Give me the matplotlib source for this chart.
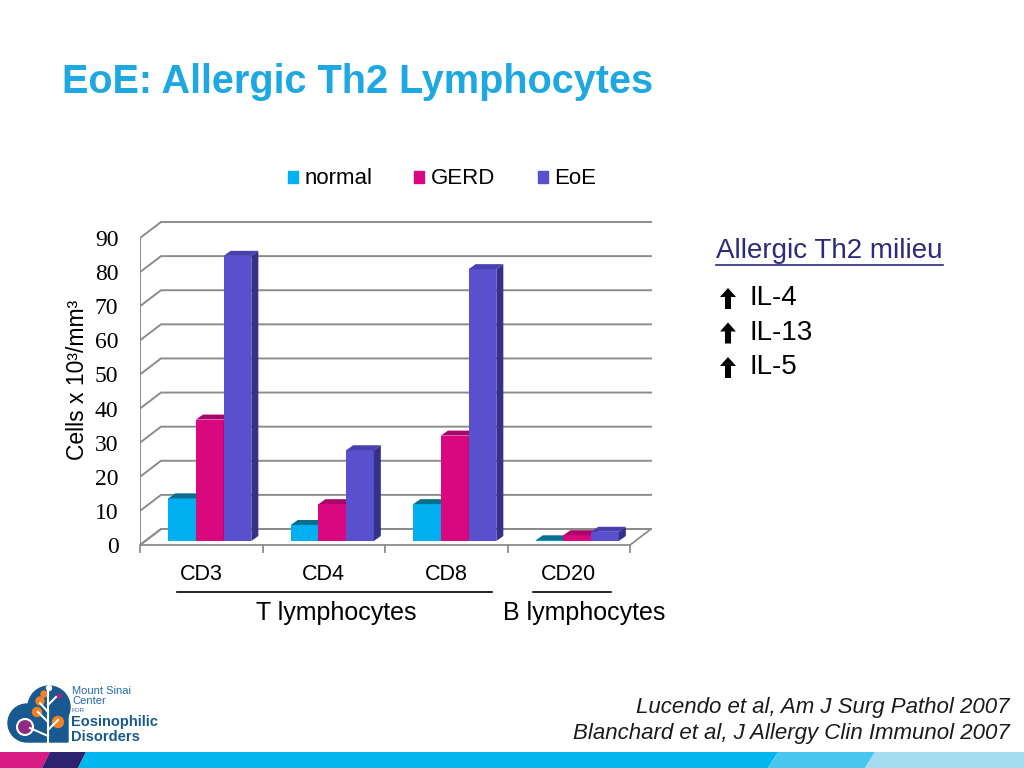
import numpy as np
import matplotlib
matplotlib.use('Agg')
import matplotlib.pyplot as plt
from matplotlib.patches import Polygon, Rectangle, Circle

plt.rcParams['font.family'] = ['Liberation Sans', 'DejaVu Sans']

# data
categories = ['CD3', 'CD4', 'CD8', 'CD20']
series = ['normal', 'GERD', 'EoE']
normal = [12.5, 4.7, 10.8, 0.2]
gerd = [35.6, 10.8, 30.9, 1.7]
eoe = [83.6, 26.6, 79.7, 2.7]
y_ticks = list(range(0, 100, 10))
groups = ['T lymphocytes', 'B lymphocytes']
group_spans = [(0, 2), (3, 3)]  # first / last category index of each group
title = 'EoE: Allergic Th2 Lymphocytes'
right_head = 'Allergic Th2 milieu'
cytokines = ['IL-4', 'IL-13', 'IL-5']
refs = ['Lucendo et al, Am J Surg Pathol 2007',
        'Blanchard et al, J Allergy Clin Immunol 2007']

face = {'normal': '#00b0f0', 'GERD': '#d9087f', 'EoE': '#5850cc'}
side = {'normal': '#0082b4', 'GERD': '#9a055a', 'EoE': '#35308a'}
top = {'normal': '#0a6f8f', 'GERD': '#a8066a', 'EoE': '#4840ae'}

fig = plt.figure(figsize=(10.24, 7.68), dpi=100)

# background layer in pixel coords
bg = fig.add_axes([0, 0, 1, 1])
bg.set_xlim(0, 1024)
bg.set_ylim(768, 0)
bg.axis('off')

# chart axes, front plane: x 0..4 -> px 140..630, y 0..90 -> px 545..238
L, R, T, B = 140, 660, 215, 560
px_x = 122.5
px_y = 3.411
ax = fig.add_axes([L / 1024, 1 - B / 768, (R - L) / 1024, (B - T) / 768])
ax.patch.set_alpha(0)
ax.set_xlim(0, (R - L) / px_x)
ax.set_ylim(-(B - 545) / px_y, (545 - T) / px_y)
for s in ax.spines.values():
    s.set_visible(False)

n = len(categories)
x = np.arange(n)
wdx, wdy = 21 / px_x, 16 / px_y    # wall depth
bdx, bdy = 7 / px_x, 5 / px_y      # bar depth
pdx, pdy = 5 / px_x, 4 / px_y      # bar plane offset from front
bw = 0.226
grid_c = '#8c8c8c'

# floor
ax.add_patch(Polygon([(0, 0), (n, 0), (n + wdx, wdy), (wdx, wdy)], closed=True,
                     facecolor='white', edgecolor=grid_c, lw=1.3, zorder=1))
for i in range(n + 1):
    ax.plot([i, i], [0, -7 / px_y], color=grid_c, lw=1.3, zorder=1, clip_on=False)
# back wall gridlines
for v in y_ticks:
    ax.plot([0, wdx, n + wdx], [v, v + wdy, v + wdy], color=grid_c, lw=1.4, zorder=1)
ax.plot([0, 0], [0, y_ticks[-1]], color=grid_c, lw=1.4, zorder=1)

# bars with fake depth
for j, (name, vals) in enumerate(zip(series, [normal, gerd, eoe])):
    bars = ax.bar(x + 0.19 + pdx + j * bw, vals, width=bw, bottom=pdy, align='edge',
                  color=face[name], zorder=3 + j, label=name)
    for r in bars:
        x0, y0, w, h = r.get_x(), r.get_y(), r.get_width(), r.get_height()
        ax.add_patch(Polygon([(x0 + w, y0), (x0 + w + bdx, y0 + bdy),
                              (x0 + w + bdx, y0 + h + bdy), (x0 + w, y0 + h)],
                             closed=True, facecolor=side[name], edgecolor='none', zorder=3 + j))
        ax.add_patch(Polygon([(x0, y0 + h), (x0 + w, y0 + h),
                              (x0 + w + bdx, y0 + h + bdy), (x0 + bdx, y0 + h + bdy)],
                             closed=True, facecolor=top[name], edgecolor='none', zorder=3 + j))

ax.set_yticks(y_ticks)
ax.set_yticklabels([str(v) for v in y_ticks], fontfamily='Liberation Serif', fontsize=17)
ax.tick_params(axis='y', length=0, pad=15.5)
ax.set_xticks(x + 0.5)
ax.set_xticklabels(categories, fontsize=15.5)
ax.tick_params(axis='x', length=0, pad=3)

# group brackets under the categories
line_y = -47 / px_y
text_y = -68 / px_y
pads = [(0.2, 0.37), (0.29, 0.345)]
text_shift = [0.02, 0.1]
for g, (a, b), (pl, pr), sh in zip(groups, group_spans, pads, text_shift):
    xa, xb = x[a] + 0.5 - pl, x[b] + 0.5 + pr
    ax.plot([xa, xb], [line_y, line_y], color='black', lw=1.2, clip_on=False)
    ax.text((xa + xb) / 2 + sh, text_y, g, ha='center', va='center', fontsize=18, clip_on=False)

fig.text(77 / 1024, 1 - 380 / 768, 'Cells x 10³/mm³', rotation=90,
         ha='center', va='center', fontsize=16.5)

handles = [Rectangle((0, 0), 1, 1, color=face[s]) for s in series]
fig.legend(handles, series, loc='center', bbox_to_anchor=(442 / 1024, 1 - 179 / 768),
           ncol=3, frameon=False, fontsize=16, handlelength=0.45, handleheight=0.45,
           handletextpad=0.3, columnspacing=1.9)

# title
bg.text(62, 82, title, fontsize=28.5, fontweight='bold', color='#1ea8e1', va='center')

# right side notes
head = bg.text(716, 251, right_head, color='#2b2a7c', fontsize=20, va='center')
fig.canvas.draw()
bb = head.get_window_extent()
bg.plot([716, 716 + bb.width], [265, 265], color='#2b2a7c', lw=1.2)
for i, c in enumerate(cytokines):
    yy = 298 + 34.5 * i
    cx, cy = 728, yy + 1
    arrow = [(cx, cy - 11), (cx + 8, cy - 2), (cx + 3, cy - 2), (cx + 3, cy + 10),
             (cx - 3, cy + 10), (cx - 3, cy - 2), (cx - 8, cy - 2)]
    bg.add_patch(Polygon(arrow, closed=True, facecolor='black', edgecolor='none'))
    bg.text(749, yy, c, fontsize=20, va='center')

# references
bg.text(1010, 707, refs[0], ha='right', va='center', style='italic', fontsize=16, color='#1a1a1a')
bg.text(1010, 734, refs[1], ha='right', va='center', style='italic', fontsize=16, color='#1a1a1a')

# bottom band
band = [
    ([(0, 752), (50, 752), (42, 768), (0, 768)], '#d81b84'),
    ([(50, 752), (86, 752), (78, 768), (42, 768)], '#2c2270'),
    ([(86, 752), (778, 752), (768, 768), (78, 768)], '#00b6ec'),
    ([(778, 752), (875, 752), (865, 768), (768, 768)], '#48c6f0'),
    ([(875, 752), (1024, 752), (1024, 768), (865, 768)], '#a6dcf1'),
]
for pts, col in band:
    bg.add_patch(Polygon(pts, closed=True, facecolor=col, edgecolor='none'))

# logo
navy = '#18598f'
bg.add_patch(Circle((27, 723), 19, color=navy))
bg.add_patch(Circle((49, 707), 21, color=navy))
bg.add_patch(Polygon([(10, 730), (30, 742), (68, 742), (68, 705), (40, 715)],
                     closed=True, color=navy))
for (x1, y1, x2, y2) in [(48, 742, 48, 690), (48, 722, 38, 712), (48, 712, 40, 703),
                         (48, 705, 56, 697), (48, 730, 58, 720), (30, 728, 48, 736)]:
    bg.plot([x1, x2], [y1, y2], color='white', lw=1.5)
bg.add_patch(Circle((25, 727), 8, facecolor='#8e2b85', edgecolor='white', lw=1.5))
for (cx, cy, r) in [(37, 712, 4.5), (40, 701, 4), (58, 722, 5.5), (44, 694, 3)]:
    bg.add_patch(Circle((cx, cy), r, color='#f08224'))
bg.add_patch(Circle((59, 696), 2.5, color='#8e2b85'))
bg.add_patch(Circle((49, 688), 2.5, color='white'))
blue = '#2469b0'
bg.text(72, 691, 'Mount Sinai', fontsize=8, color=blue, va='center')
bg.text(72, 701, 'Center', fontsize=8, color=blue, va='center')
bg.text(72, 710, 'FOR', fontsize=4.5, color=blue, va='center')
bg.text(71, 722, 'Eosinophilic', fontsize=10.5, fontweight='bold', color=navy, va='center')
bg.text(71, 737, 'Disorders', fontsize=10.5, fontweight='bold', color=navy, va='center')

fig.savefig('out.png', dpi=100)
